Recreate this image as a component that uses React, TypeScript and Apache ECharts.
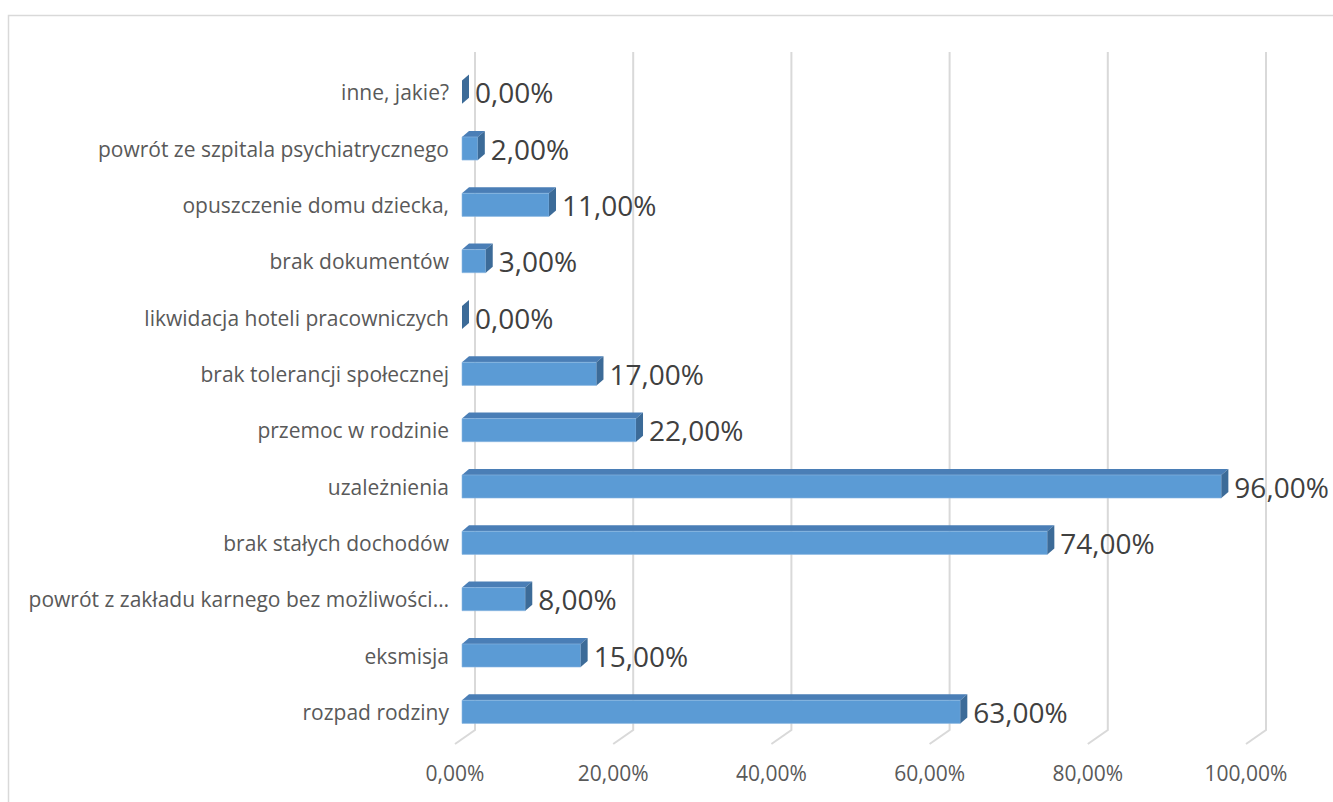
import React, { useEffect, useRef } from "react";
import * as echarts from "echarts";

const categories: string[] = [
  "inne, jakie?",
  "powrót ze szpitala psychiatrycznego",
  "opuszczenie domu dziecka,",
  "brak dokumentów",
  "likwidacja hoteli pracowniczych",
  "brak tolerancji społecznej",
  "przemoc w rodzinie",
  "uzależnienia",
  "brak stałych dochodów",
  "powrót z zakładu karnego bez możliwości…",
  "eksmisja",
  "rozpad rodziny",
];
const values: number[] = [0, 2, 11, 3, 0, 17, 22, 96, 74, 8, 15, 63];
const ticks: number[] = [0, 20, 40, 60, 80, 100];

const fmt = (v: number) => v.toFixed(2).replace(".", ",") + "%";

const FONT = "'Open Sans', 'Noto Sans', sans-serif";

export default function App() {
  const ref = useRef<HTMLDivElement>(null);
  useEffect(() => {
    document.body.style.margin = "0";
    document.body.style.overflow = "hidden";
    const chart = echarts.init(ref.current!, undefined, { renderer: "svg" });
    const DX = 7;
    const DY = -6;
    const option: any = {
      animation: false,
      backgroundColor: "#ffffff",
      graphic: [
        {
          type: "rect",
          shape: { x: 8.5, y: 15.5, width: 1400, height: 900 },
          style: { fill: "none", stroke: "#d9d9d9", lineWidth: 1.5 },
          silent: true,
        },
      ],
      grid: { left: 455, top: 64, width: 791, height: 676 },
      xAxis: {
        type: "value",
        min: 0,
        max: 100,
        interval: 20,
        axisLine: { show: false },
        axisTick: { show: false },
        splitLine: { show: false },
        axisLabel: {
          formatter: (v: number) => fmt(v),
          color: "#595959",
          fontSize: 21,
          fontFamily: FONT,
          margin: 22,
        },
      },
      yAxis: {
        type: "category",
        data: categories,
        inverse: true,
        axisLine: { show: false },
        axisTick: { show: false },
        splitLine: { show: false },
        axisLabel: {
          color: "#595959",
          fontSize: 21,
          fontFamily: FONT,
          margin: 6,
        },
      },
      series: [
        {
          type: "custom",
          z: 1,
          silent: true,
          data: ticks.map((t) => [t, 0]),
          renderItem: (params: any, api: any) => {
            const cs = params.coordSys;
            const x = api.coord([api.value(0), 0])[0];
            const top = cs.y - 12;
            const backBottom = cs.y + cs.height - 10;
            const frontBottom = cs.y + cs.height + 4;
            return {
              type: "polyline",
              shape: {
                points: [
                  [x + 20, top],
                  [x + 20, backBottom],
                  [x, frontBottom],
                ],
              },
              style: { stroke: "#d9d9d9", lineWidth: 2, fill: "none" },
            };
          },
        },
        {
          type: "custom",
          z: 2,
          data: values.map((v, i) => [v, i]),
          renderItem: (params: any, api: any) => {
            const v = api.value(0);
            const idx = api.value(1);
            const p0 = api.coord([0, idx]);
            const p1 = api.coord([v, idx]);
            const band = api.size([0, 1])[1];
            const h = band * 0.41;
            const x0 = p0[0] + 7;
            const x1 = p1[0] + 7;
            const yc = p0[1];
            const t = yc - h / 2;
            const b = yc + h / 2;
            const children: any[] = [];
            if (x1 - x0 > 0.5) {
              children.push({
                type: "polygon",
                shape: {
                  points: [
                    [x0, t],
                    [x1, t],
                    [x1 + DX, t + DY],
                    [x0 + DX, t + DY],
                  ],
                },
                style: { fill: "#4a7eb6" },
              });
              children.push({
                type: "rect",
                shape: { x: x0, y: t, width: x1 - x0, height: h },
                style: { fill: "#5b9bd5", stroke: "#8db9e2", lineWidth: 0.6 },
              });
            }
            children.push({
              type: "polygon",
              shape: {
                points: [
                  [x1, t],
                  [x1 + DX, t + DY],
                  [x1 + DX, b + DY],
                  [x1, b],
                ],
              },
              style: { fill: "#3c6b98" },
            });
            children.push({
              type: "text",
              style: {
                x: x1 + 13,
                y: yc,
                text: fmt(v),
                fill: "#404040",
                fontSize: 28,
                fontFamily: FONT,
                align: "left",
                verticalAlign: "middle",
              },
            });
            return { type: "group", children };
          },
        },
      ],
    };
    chart.setOption(option);
    return () => chart.dispose();
  }, []);
  return <div ref={ref} style={{ width: 1333, height: 802 }} />;
}
